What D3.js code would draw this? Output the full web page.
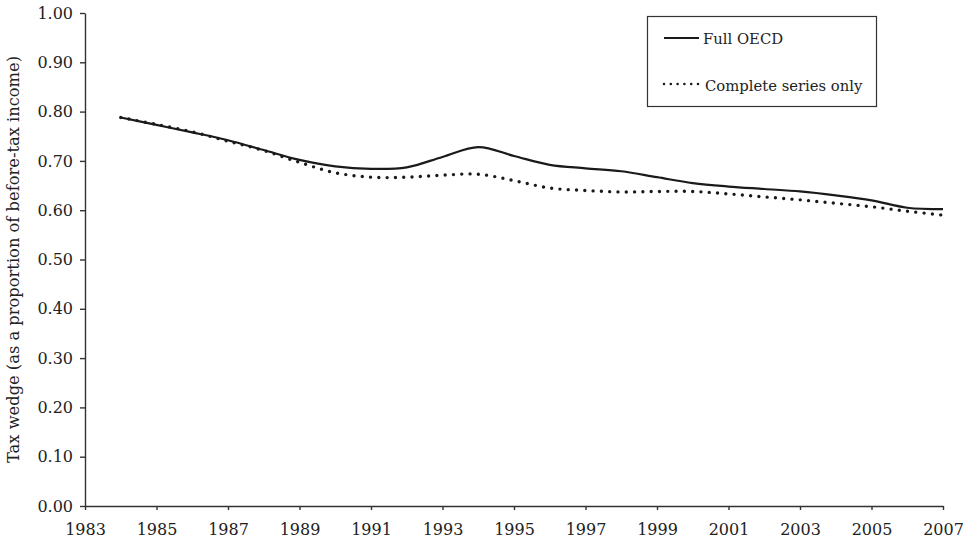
<!DOCTYPE html>
<html>
<head>
<meta charset="utf-8">
<script src="https://cdn.jsdelivr.net/npm/d3@7"></script>
<style>
  body { margin: 0; background: #fff; }
  text { font-family: "DejaVu Serif", serif; fill: #222; }
</style>
</head>
<body>
<script>
var width = 975;
var height = 541;

// years and the two series
var years = [1984, 1985, 1986, 1987, 1988, 1989, 1990, 1991, 1992, 1993, 1994, 1995,
             1996, 1997, 1998, 1999, 2000, 2001, 2002, 2003, 2004, 2005, 2006, 2007];
var fullOECD = [0.788, 0.773, 0.758, 0.742, 0.722, 0.702, 0.689, 0.684, 0.687, 0.708, 0.728, 0.710,
                0.692, 0.685, 0.679, 0.667, 0.655, 0.648, 0.643, 0.638, 0.630, 0.620, 0.605, 0.602];
var completeOnly = [0.788, 0.774, 0.759, 0.740, 0.721, 0.697, 0.676, 0.667, 0.667, 0.671, 0.673, 0.660,
                    0.645, 0.640, 0.637, 0.638, 0.638, 0.633, 0.627, 0.621, 0.614, 0.607, 0.598, 0.590];
var xTicks = [1983, 1985, 1987, 1989, 1991, 1993, 1995, 1997, 1999, 2001, 2003, 2005, 2007];
var yTicks = [0, 0.1, 0.2, 0.3, 0.4, 0.5, 0.6, 0.7, 0.8, 0.9, 1.0];
var legendLabels = ['Full OECD', 'Complete series only'];

var margin = {top: 13, right: 32, bottom: 35, left: 85};

var svg = d3.select('body').append('svg')
    .attr('width', width)
    .attr('height', height);

var x = d3.scaleLinear()
    .domain([1983, 2007])
    .range([margin.left, width - margin.right]);

var y = d3.scaleLinear()
    .domain([0, 1])
    .range([height - margin.bottom, margin.top]);

// axes
var xAxis = svg.append('g')
    .attr('transform', 'translate(0,' + (height - margin.bottom) + ')')
    .call(d3.axisBottom(x).tickValues(xTicks).tickFormat(d3.format('d'))
      .tickSize(4).tickPadding(14).tickSizeOuter(0));

var yAxis = svg.append('g')
    .attr('transform', 'translate(' + margin.left + ',0)')
    .call(d3.axisLeft(y).tickValues(yTicks).tickFormat(d3.format('.2f'))
      .tickSize(5).tickPadding(7).tickSizeOuter(0));

[xAxis, yAxis].forEach(function(g) {
  g.selectAll('path, line').attr('stroke', '#333').attr('stroke-width', 1.4);
  g.selectAll('text').attr('font-size', 16).attr('font-family', '"DejaVu Serif", serif').attr('fill', '#222');
});

svg.append('text')
    .attr('transform', 'translate(19,' + ((margin.top + height - margin.bottom) / 2) + ') rotate(-90)')
    .attr('text-anchor', 'middle')
    .attr('font-size', 16.3)
    .text('Tax wedge (as a proportion of before-tax income)');

// lines
var line = d3.line()
    .x(function(d) { return x(d[0]); })
    .y(function(d) { return y(d[1]); })
    .curve(d3.curveCatmullRom);

svg.append('path')
    .datum(d3.zip(years, fullOECD))
    .attr('fill', 'none')
    .attr('stroke', '#1a1a1a')
    .attr('stroke-width', 2.2)
    .attr('d', line);

svg.append('path')
    .datum(d3.zip(years, completeOnly))
    .attr('fill', 'none')
    .attr('stroke', '#1a1a1a')
    .attr('stroke-width', 3.4)
    .attr('stroke-linecap', 'round')
    .attr('stroke-dasharray', '0 8.3')
    .attr('d', line);

// legend
var legend = svg.append('g');

legend.append('rect')
    .attr('x', 647.5)
    .attr('y', 16.5)
    .attr('width', 229)
    .attr('height', 90)
    .attr('fill', '#fff')
    .attr('stroke', '#333')
    .attr('stroke-width', 1.2);

legend.append('line')
    .attr('x1', 664).attr('x2', 699)
    .attr('y1', 38).attr('y2', 38)
    .attr('stroke', '#1a1a1a')
    .attr('stroke-width', 2.2);

legend.append('line')
    .attr('x1', 664).attr('x2', 699)
    .attr('y1', 84).attr('y2', 84)
    .attr('stroke', '#1a1a1a')
    .attr('stroke-width', 2.6)
    .attr('stroke-linecap', 'round')
    .attr('stroke-dasharray', '0 6.8');

legend.selectAll('text.lab')
    .data(legendLabels)
  .enter().append('text')
    .attr('class', 'lab')
    .attr('x', function(d, i) { return i === 0 ? 703 : 705; })
    .attr('y', function(d, i) { return i === 0 ? 44 : 91; })
    .attr('font-size', 14.8)
    .text(function(d) { return d; });
</script>
</body>
</html>
